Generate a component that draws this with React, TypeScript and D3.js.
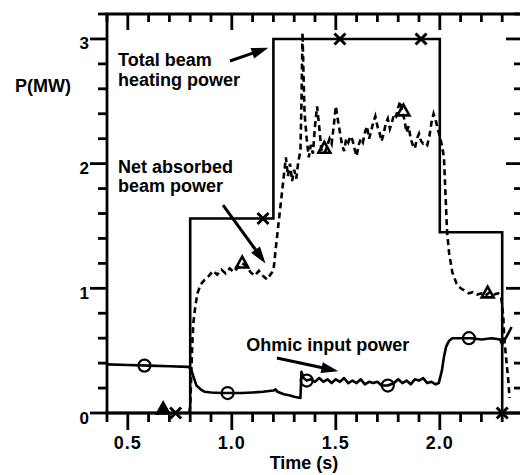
import React from "react";
import * as d3 from "d3";

// ---- data ----
const beamT = [0.4, 0.8, 1.2, 2.0, 2.3];
const beamP = [0, 1.56, 3.0, 1.45, 0];
const beamMarkT = [0.73, 1.15, 1.52, 1.91, 2.3];
const beamMarkP = [0, 1.56, 3.0, 3.0, 0];

const netT = [0.795, 0.8, 0.805, 0.81, 0.815, 0.825, 0.835, 0.85, 0.87, 0.89, 0.91, 0.93, 0.95, 0.97, 0.99, 1.01, 1.03, 1.05, 1.07, 1.09, 1.11, 1.13, 1.15, 1.17, 1.19, 1.2, 1.21, 1.22, 1.23, 1.24, 1.25, 1.26, 1.27, 1.28, 1.29, 1.3, 1.31, 1.32, 1.33, 1.335, 1.34, 1.345, 1.35, 1.36, 1.37, 1.38, 1.39, 1.4, 1.41, 1.42, 1.43, 1.44, 1.45, 1.46, 1.47, 1.48, 1.49, 1.5, 1.51, 1.52, 1.53, 1.54, 1.55, 1.56, 1.57, 1.58, 1.59, 1.6, 1.61, 1.62, 1.63, 1.64, 1.65, 1.66, 1.67, 1.68, 1.69, 1.7, 1.71, 1.72, 1.73, 1.74, 1.75, 1.76, 1.77, 1.78, 1.79, 1.8, 1.81, 1.82, 1.83, 1.84, 1.85, 1.86, 1.87, 1.88, 1.89, 1.9, 1.91, 1.92, 1.93, 1.94, 1.95, 1.96, 1.97, 1.98, 1.99, 2.0, 2.01, 2.02, 2.025, 2.03, 2.035, 2.045, 2.06, 2.08, 2.1, 2.12, 2.14, 2.16, 2.18, 2.2, 2.22, 2.24, 2.26, 2.28, 2.295, 2.305, 2.31, 2.32, 2.33, 2.335];
const netP = [0, 0.05, 0.3, 0.55, 0.72, 0.86, 0.96, 1.03, 1.07, 1.1, 1.14, 1.11, 1.15, 1.12, 1.16, 1.13, 1.17, 1.2, 1.18, 1.13, 1.1, 1.14, 1.1, 1.07, 1.12, 1.14, 1.3, 1.45, 1.6, 1.75, 1.9, 2.05, 1.9, 2.0, 1.86, 1.95, 1.88, 2.02, 2.1, 2.5, 3.05, 2.7, 2.4, 2.2, 2.05, 2.15, 2.08, 2.3, 2.46, 2.3, 2.12, 2.08, 2.1, 2.15, 2.2, 2.16, 2.3, 2.46, 2.35, 2.25, 2.15, 2.1, 2.2, 2.17, 2.22, 2.19, 2.12, 2.06, 2.15, 2.2, 2.17, 2.25, 2.3, 2.2, 2.26, 2.33, 2.38, 2.3, 2.25, 2.18, 2.24, 2.32, 2.36, 2.28, 2.33, 2.4, 2.38, 2.45, 2.5, 2.42, 2.35, 2.25, 2.3, 2.2, 2.15, 2.12, 2.2, 2.24, 2.18, 2.16, 2.17, 2.15, 2.22, 2.33, 2.4, 2.35, 2.28, 2.22, 2.15, 2.05, 1.85, 1.65, 1.45, 1.28, 1.13, 1.04, 1.0, 0.98, 0.96, 0.97, 0.95, 0.96, 0.94, 0.97, 0.95, 0.96, 0.93, 0.78, 0.6, 0.42, 0.25, 0.12];
const netMarkT = [0.67, 1.05, 1.445, 1.825, 2.23];
const netMarkP = [0.03, 1.2, 2.12, 2.42, 0.96];

const ohmT = [0.4, 0.5, 0.6, 0.7, 0.79, 0.8, 0.81, 0.82, 0.83, 0.85, 0.87, 0.9, 0.95, 1.0, 1.05, 1.1, 1.15, 1.2, 1.21, 1.22, 1.25, 1.28, 1.3, 1.33, 1.335, 1.345, 1.36, 1.38, 1.4, 1.42, 1.44, 1.46, 1.48, 1.5, 1.52, 1.54, 1.56, 1.58, 1.6, 1.62, 1.64, 1.66, 1.68, 1.7, 1.72, 1.75, 1.78, 1.8, 1.82, 1.84, 1.86, 1.88, 1.9, 1.92, 1.94, 1.96, 1.98, 1.995, 2.01, 2.02, 2.03, 2.045, 2.06, 2.1, 2.15, 2.2, 2.25, 2.29, 2.3, 2.31, 2.33, 2.345];
const ohmP = [0.39, 0.385, 0.38, 0.375, 0.37, 0.36, 0.32, 0.27, 0.22, 0.19, 0.17, 0.165, 0.16, 0.16, 0.16, 0.165, 0.17, 0.18, 0.19, 0.17, 0.15, 0.14, 0.13, 0.12, 0.33, 0.28, 0.26, 0.27, 0.25, 0.28, 0.25, 0.27, 0.24, 0.27, 0.25, 0.28, 0.24, 0.26, 0.24, 0.27, 0.23, 0.25, 0.24, 0.25, 0.22, 0.22, 0.24, 0.27, 0.24, 0.26, 0.23, 0.27, 0.26, 0.28, 0.24, 0.25, 0.23, 0.24, 0.34, 0.45, 0.53, 0.58, 0.6, 0.6, 0.6, 0.59, 0.6, 0.59, 0.55, 0.58, 0.64, 0.69];
const ohmMarkT = [0.58, 0.98, 1.36, 1.75, 2.14];
const ohmMarkP = [0.38, 0.16, 0.26, 0.22, 0.6];

const xMajorTicks = [0.5, 1.0, 1.5, 2.0];
const xTickLabels = ["0.5", "1.0", "1.5", "2.0"];
const yMajorTicks = [0, 1, 2, 3];
const yTickLabels = ["0", "1", "2", "3"];

// annotations (data coordinates)
const labelLines = [
  { t: 0.453, p: 2.78, text: "Total beam" },
  { t: 0.453, p: 2.62, text: "heating power" },
  { t: 0.453, p: 1.925, text: "Net absorbed" },
  { t: 0.453, p: 1.77, text: "beam power" },
  { t: 1.07, p: 0.5, text: "Ohmic input power" },
];
const arrows = [
  { t0: 0.991, p0: 2.823, t1: 1.176, p1: 2.93 },
  { t0: 0.958, p0: 1.668, t1: 1.162, p1: 1.2 },
  { t0: 1.217, p0: 0.441, t1: 1.512, p1: 0.335 },
];

const W = 520;
const H = 475;
const FONT = "'Liberation Sans', Arial, Helvetica, sans-serif";

export default function App() {
  const x = d3.scaleLinear().domain([0.4, 2.4]).range([107, 523]);
  const y = d3.scaleLinear().domain([0, 3.2]).range([413, 14]);

  const beamLine = d3
    .line<number>()
    .x((_, i) => x(beamT[i]))
    .y((d) => y(d))
    .curve(d3.curveStepAfter);
  const netLine = d3
    .line<number>()
    .x((_, i) => x(netT[i]))
    .y((d) => y(d));
  const ohmLine = d3
    .line<number>()
    .x((_, i) => x(ohmT[i]))
    .y((d) => y(d));

  const xTicksAll = d3.range(4, 25).map((v) => v / 10);
  const yTicksAll = d3.range(0, 17).map((v) => v / 5);
  const isMajorX = (v: number) => Math.abs(v * 2 - Math.round(v * 2)) < 1e-6;
  const isMajorY = (v: number) => Math.abs(v - Math.round(v)) < 1e-6;

  const axisW = 2.8;
  const major = 17;
  const minor = 9;

  const triPath = (cx: number, cy: number, s: number) => {
    const h = s * 0.9;
    return `M${cx},${cy - h * 0.62} L${cx + s / 2},${cy + h * 0.38} L${cx - s / 2},${cy + h * 0.38} Z`;
  };

  return (
    <svg width={W} height={H} style={{ position: "absolute", left: 0, top: 0, background: "#fff" }}>
      <rect x={0} y={0} width={W} height={H} fill="#fff" />
      {/* frame */}
      <line x1={x(0.4)} x2={x(0.4)} y1={y(3.2)} y2={y(0)} stroke="#000" strokeWidth={axisW} />
      <line x1={x(0.4) - 1.4} x2={x(2.4)} y1={y(0)} y2={y(0)} stroke="#000" strokeWidth={axisW} />
      <line x1={x(0.4) - 1.4} x2={x(2.4)} y1={y(3.2)} y2={y(3.2)} stroke="#000" strokeWidth={axisW} />
      <line x1={x(2.4)} x2={x(2.4)} y1={y(3.2)} y2={y(0)} stroke="#000" strokeWidth={axisW} />

      {/* x ticks: bottom outward, top inward */}
      {xTicksAll.map((v) => {
        const L = isMajorX(v) ? major : minor;
        return (
          <g key={"xt" + v}>
            <line x1={x(v)} x2={x(v)} y1={y(0)} y2={y(0) + L} stroke="#000" strokeWidth={axisW} />
            <line x1={x(v)} x2={x(v)} y1={y(3.2)} y2={y(3.2) + L - 1} stroke="#000" strokeWidth={axisW} />
          </g>
        );
      })}
      {/* y ticks: left outward, right inward */}
      {yTicksAll.map((v) => {
        const L = isMajorY(v) ? major : minor;
        return (
          <g key={"yt" + v}>
            <line x1={x(0.4) - L} x2={x(0.4)} y1={y(v)} y2={y(v)} stroke="#000" strokeWidth={axisW} />
            <line x1={x(2.4) - L} x2={x(2.4)} y1={y(v)} y2={y(v)} stroke="#000" strokeWidth={axisW} />
          </g>
        );
      })}

      {/* tick labels */}
      {xMajorTicks.map((v, i) => (
        <text key={"xl" + v} x={x(v)} y={449} textAnchor="middle" fontFamily={FONT} fontWeight="bold" fontSize={18} letterSpacing={1}>
          {xTickLabels[i]}
        </text>
      ))}
      {yMajorTicks.map((v, i) => (
        <text key={"yl" + v} x={89} y={y(v) + 10.5} textAnchor="end" fontFamily={FONT} fontWeight="bold" fontSize={17}>
          {yTickLabels[i]}
        </text>
      ))}
      <text x={15} y={92} fontFamily={FONT} fontWeight="bold" fontSize={18}>P(MW)</text>
      <text x={304} y={469} textAnchor="middle" fontFamily={FONT} fontWeight="bold" fontSize={18}>Time (s)</text>

      {/* series */}
      <path d={beamLine(beamP) || ""} fill="none" stroke="#000" strokeWidth={2.6} strokeLinejoin="miter" />
      <path d={netLine(netP) || ""} fill="none" stroke="#000" strokeWidth={2.6} strokeDasharray="6,4" />
      <path d={ohmLine(ohmP) || ""} fill="none" stroke="#000" strokeWidth={2.6} strokeLinejoin="round" />

      {/* markers */}
      {beamMarkT.map((t, i) => {
        const cx = x(t);
        const cy = y(beamMarkP[i]);
        const s = 5.5;
        return (
          <g key={"bm" + i} stroke="#000" strokeWidth={3}>
            <line x1={cx - s} y1={cy - s} x2={cx + s} y2={cy + s} />
            <line x1={cx - s} y1={cy + s} x2={cx + s} y2={cy - s} />
          </g>
        );
      })}
      {netMarkT.map((t, i) => (
        <path key={"nm" + i} d={triPath(x(t), y(netMarkP[i]), 12)} fill={i === 0 ? "#000" : "none"} stroke="#000" strokeWidth={2.6} strokeLinejoin="miter" />
      ))}
      {ohmMarkT.map((t, i) => (
        <circle key={"om" + i} cx={x(t)} cy={y(ohmMarkP[i])} r={6} fill="none" stroke="#000" strokeWidth={2.2} />
      ))}

      {/* annotations */}
      {labelLines.map((l, i) => (
        <text key={"lab" + i} x={x(l.t)} y={y(l.p)} fontFamily={FONT} fontWeight="bold" fontSize={18}>
          {l.text}
        </text>
      ))}
      {arrows.map((a, i) => {
        const x0 = x(a.t0), y0 = y(a.p0), x1 = x(a.t1), y1 = y(a.p1);
        const dx = x1 - x0, dy = y1 - y0;
        const len = Math.hypot(dx, dy);
        const ux = dx / len, uy = dy / len;
        const hl = 17, hw = 5.5;
        const bx = x1 - ux * hl, by = y1 - uy * hl;
        const head = `M${x1},${y1} L${bx - uy * hw},${by + ux * hw} L${bx + uy * hw},${by - ux * hw} Z`;
        return (
          <g key={"ar" + i}>
            <line x1={x0} y1={y0} x2={bx + ux * 2} y2={by + uy * 2} stroke="#000" strokeWidth={3} />
            <path d={head} fill="#000" />
          </g>
        );
      })}
    </svg>
  );
}
